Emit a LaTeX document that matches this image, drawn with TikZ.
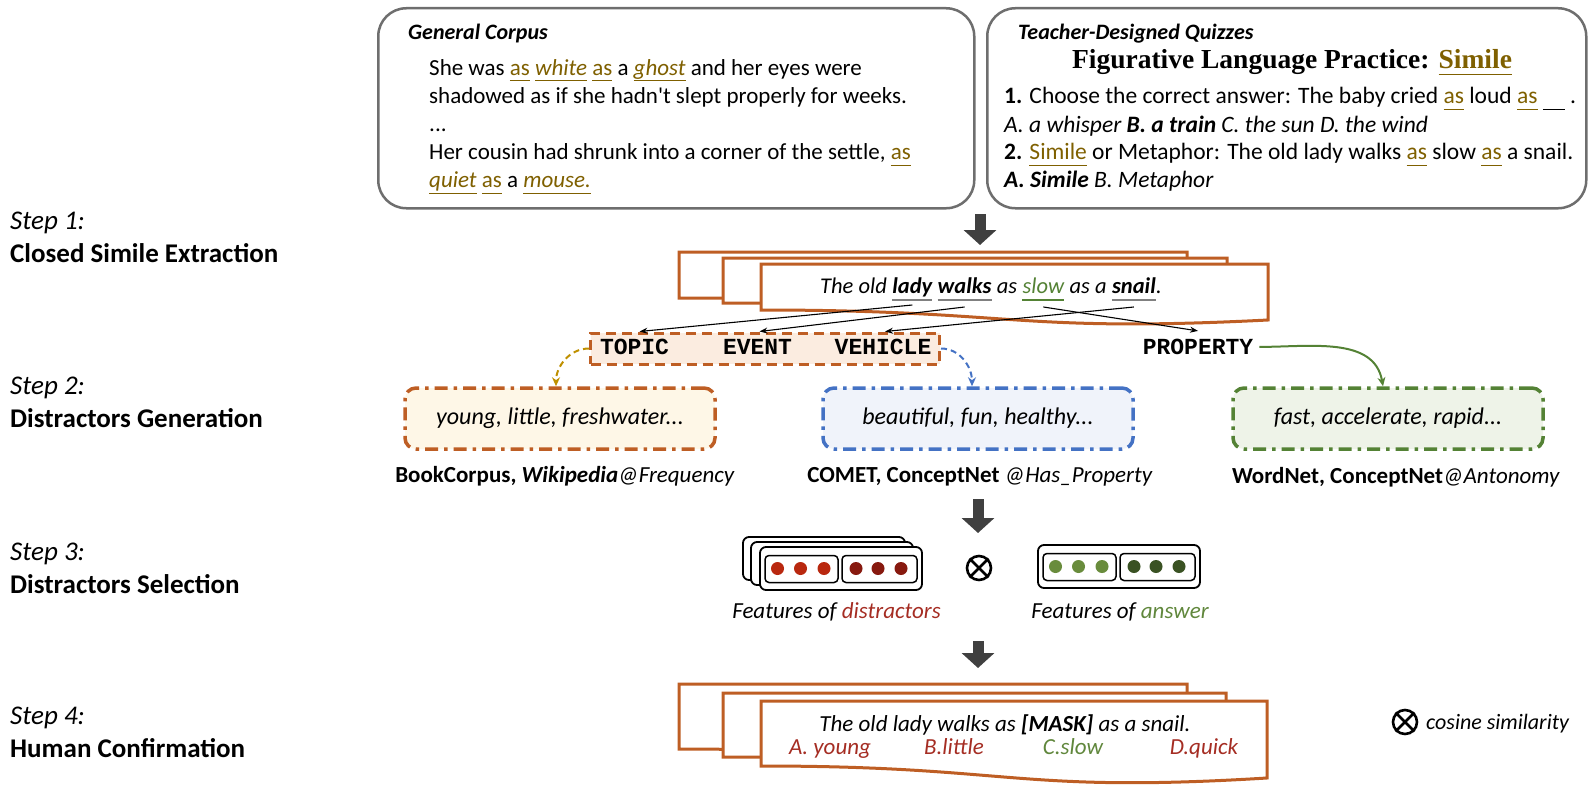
\documentclass[tikz,border=0pt]{standalone}
\usepackage{fontspec}
\setmainfont{Carlito}
\newfontfamily\monofont{Liberation Mono}
\newfontfamily\titleserif{Liberation Serif}
\usetikzlibrary{arrows.meta}
\usetikzlibrary{calc}
\usetikzlibrary{positioning}

\definecolor{docbrown}{RGB}{190,94,36}
\definecolor{corpusgold}{RGB}{127,96,0}
\definecolor{boxgray}{RGB}{110,110,110}
\definecolor{bigarrowgray}{RGB}{64,64,64}
\definecolor{topicfill}{RGB}{251,236,224}
\definecolor{freqfill}{RGB}{254,247,231}
\definecolor{propfill}{RGB}{240,243,250}
\definecolor{antofill}{RGB}{238,243,232}
\definecolor{freqgold}{RGB}{191,144,0}
\definecolor{propblue}{RGB}{68,114,196}
\definecolor{antogreen}{RGB}{84,130,53}
\definecolor{wrongred}{RGB}{165,45,35}
\definecolor{rightgreen}{RGB}{96,135,60}
\definecolor{dotred}{RGB}{185,40,15}
\definecolor{dotdarkred}{RGB}{135,25,15}
\definecolor{dotgreen}{RGB}{105,140,60}
\definecolor{dotdarkgreen}{RGB}{58,82,35}

% underline at a fixed depth
\newsavebox\ulsave
\newcommand{\ulbox}[1]{\sbox\ulsave{#1}\rlap{\rule[-6.3pt]{\wd\ulsave}{1.3pt}}\usebox\ulsave}
\newcommand{\hlw}[1]{\textcolor{corpusgold}{\ulbox{#1}}}

% one sheet of a stacked document, wavy bottom edge
\newcommand{\docpage}[5]{%
  \draw[docline] (#1,#2) -- (#3,#2) -- (#3,#5)
    .. controls ({(#1+#3)/2},{#5+1.29*(#5-#4)}) and ({(#1+#3)/2},#4) .. (#1,#4) -- cycle;}

% feature vector: left, top, light dots, dark dots
\newcommand{\featbar}[4]{%
  \draw[featbox] (#1,#2) rectangle ++(162,43);
  \draw[featgroup] (#1+5,#2+8.5) rectangle ++(73,27);
  \draw[featgroup] (#1+82,#2+8.5) rectangle ++(75,27);
  \foreach \dx in {17.5,40.5,64} \fill[#3] (#1+\dx,#2+21.5) circle (6.5);
  \foreach \dx in {96,118,141} \fill[#4] (#1+\dx,#2+21.5) circle (6.5);}

\tikzset{
  topbox/.style={draw=boxgray, line width=2.5pt, rounded corners=28pt, fill=white, inner sep=0pt},
  corpustext/.style={font=\fontsize{23}{28}\selectfont, inner sep=0pt, anchor=base west},
  quiztext/.style={font=\fontsize{23.5}{28}\selectfont, inner sep=0pt, anchor=base west},
  quiztitle/.style={font=\titleserif\bfseries\fontsize{27.5}{32}\selectfont, inner sep=0pt, anchor=base},
  stepno/.style={font=\fontsize{27}{32}\selectfont\itshape, inner sep=0pt, anchor=base west},
  stepname/.style={font=\fontsize{27}{32}\selectfont\bfseries, inner sep=0pt, anchor=base west},
  bigarrow/.style={draw=bigarrowgray, line width=11pt, -{Triangle[width=32pt,length=15pt]}},
  docline/.style={draw=docbrown, line width=3pt, fill=white, line join=miter},
  sword/.style={font=\fontsize{22.5}{28}\selectfont\itshape, inner sep=0pt, anchor=base west},
  wordline/.style={line width=1.3pt},
  wordarrow/.style={line width=1.1pt, -{Stealth[length=8pt,width=6pt]}},
  rolebox/.style={draw=docbrown, fill=topicfill, line width=3pt, dash pattern=on 10pt off 6pt, inner sep=0pt},
  role/.style={font=\monofont\bfseries\fontsize{23}{26}\selectfont, inner sep=0pt, anchor=base},
  genbox/.style={line width=3.5pt, rounded corners=11pt, dash pattern=on 13pt off 6pt on 3.5pt off 6pt,
    minimum width=310pt, minimum height=61pt, inner sep=0pt, font=\fontsize{24}{28}\selectfont\itshape},
  genarrow/.style={line width=2pt, dash pattern=on 6pt off 4pt, -{Stealth[length=9pt,width=8pt]}},
  srclabel/.style={font=\fontsize{23}{27}\selectfont, inner sep=0pt, anchor=base},
  featbox/.style={draw=black, fill=white, line width=1.8pt, rounded corners=6pt},
  featgroup/.style={draw=black, line width=1.5pt, rounded corners=4pt},
  featlabel/.style={font=\fontsize{23}{28}\selectfont\itshape, inner sep=0pt, anchor=base},
  cosnode/.style={circle, draw=black, line width=2.6pt, minimum size=24pt, inner sep=0pt},
  optline/.style={font=\fontsize{23}{28}\selectfont\itshape, inner sep=0pt, anchor=base}
}

\begin{document}
\begin{tikzpicture}[x=1pt, y=-1pt]
  \useasboundingbox (0,0) rectangle (1593,792);

  % sources
  \node[topbox, minimum width=596pt, minimum height=200pt, anchor=north west] (corpus) at (377,7) {};
  \node[topbox, minimum width=599pt, minimum height=200pt, anchor=north west] (quiz) at (986,7) {};

  \node[corpustext] (chead) at (408,40) {\fontsize{22}{26}\selectfont\bfseries\itshape General Corpus};
  \node[corpustext] (cline1) at (429,75) {She was \hlw{as} \hlw{\textit{white}} \hlw{as} a \hlw{\textit{ghost}} and her eyes were};
  \node[corpustext] (cline2) at (429,103.5) {shadowed as if she hadn\textquotesingle t slept properly for weeks.};
  \node[corpustext] (cline3) at (429,131.5) {...};
  \node[corpustext] (cline4) at (429,159.5) {Her cousin had shrunk into a corner of the settle, \hlw{as}};
  \node[corpustext] (cline5) at (429,187.5) {\hlw{\textit{quiet}} \hlw{as} a \hlw{\textit{mouse.}}};

  \node[corpustext] (qhead) at (1018,40) {\fontsize{22}{26}\selectfont\bfseries\itshape Teacher-Designed Quizzes};
  \node[quiztitle] (qtitle) at (1292,69) {Figurative Language Practice: \hlw{Simile}};
  \node[quiztext] (qline1) at (1004,103.5) {\textbf{1.} Choose the correct answer: The baby cried \hlw{as} loud \hlw{as} \rule[-6.3pt]{22pt}{1.3pt} .};
  \node[quiztext] (qline2) at (1004,132) {\itshape A. a whisper \textbf{B. a train} C. the sun D. the wind};
  \node[quiztext] (qline3) at (1004,159.5) {\textbf{2.} \hlw{Simile} or Metaphor: The old lady walks \hlw{as} slow \hlw{as} a snail.};
  \node[quiztext] (qline4) at (1004,187.5) {\itshape\textbf{A. Simile} B. Metaphor};

  % steps
  \foreach \n/\y/\name in {1/229/Closed Simile Extraction, 2/394/Distractors Generation,
      3/560/Distractors Selection, 4/724/Human Confirmation}{
    \node[stepno] (step\n) at (10,\y) {Step \n:};
    \node[stepname] (stepname\n) at (10,\y+33) {\name};
  }

  % step 1
  \coordinate (arrAtop) at (980,214);
  \coordinate (arrAtip) at (980,245);
  \draw[bigarrow] (arrAtop) -- (arrAtip);

  \docpage{679}{252}{1187}{298}{308}
  \docpage{723}{258}{1227}{303}{313}
  \docpage{761}{264}{1268}{310}{320}

  \node[sword] (wthe) at (820,293) {The old};
  \node[sword] (wlady) at ($(wthe.base east)+(5.1,0)$) {\textbf{lady}};
  \node[sword] (wwalks) at ($(wlady.base east)+(5.1,0)$) {\textbf{walks}};
  \node[sword] (wasone) at ($(wwalks.base east)+(5.1,0)$) {as};
  \node[sword, text=antogreen] (wslow) at ($(wasone.base east)+(5.1,0)$) {slow};
  \node[sword] (wastwo) at ($(wslow.base east)+(5.1,0)$) {as a};
  \node[sword] (wsnail) at ($(wastwo.base east)+(5.1,0)$) {\textbf{snail}};
  \node[sword] (wdot) at (wsnail.base east) {.};

  \foreach \w in {wlady,wwalks,wsnail}
    \draw[wordline, gray] ([yshift=-7pt]\w.base west) -- ([yshift=-7pt]\w.base east);
  \draw[wordline, antogreen] ([yshift=-7pt]wslow.base west) -- ([yshift=-7pt]wslow.base east);

  % step 2
  \node[rolebox, minimum width=349pt, minimum height=31pt] (tvbox) at (765,348.5) {};
  \node[role] (topic) at (634.5,354.5) {TOPIC};
  \node[role] (event) at (757.5,354.5) {EVENT};
  \node[role] (vehicle) at (883,354.5) {VEHICLE};
  \node[role] (property) at (1198,354.5) {PROPERTY};

  \draw[wordarrow] ([yshift=-12pt]wlady.base) -- ([xshift=5pt]topic.north |- tvbox.north);
  \draw[wordarrow] ([yshift=-14pt]wwalks.base) -- ([xshift=2pt]event.north |- tvbox.north);
  \draw[wordarrow] ([yshift=-14pt]wsnail.base) -- ([xshift=2pt]vehicle.north |- tvbox.north);
  \draw[wordarrow] ([yshift=-14pt]wslow.base) -- ([yshift=8pt]property.north);

  \node[genbox, draw=docbrown, fill=freqfill] (freqbox) at (560,418.5) {young, little, freshwater...};
  \node[genbox, draw=propblue, fill=propfill] (propbox) at (978,418.5) {beautiful, fun, healthy...};
  \node[genbox, draw=antogreen, fill=antofill] (antobox) at (1388,418.5) {fast, accelerate, rapid...};

  \draw[genarrow, freqgold] (tvbox.west) to[out=180, in=90] ([xshift=-4pt]freqbox.north);
  \draw[genarrow, propblue] (tvbox.east) to[out=0, in=90] ([xshift=-6pt]propbox.north);
  \draw[line width=2pt, antogreen, -{Stealth[length=9pt,width=8pt]}]
    ([xshift=6pt]property.east) to[out=0, in=100] ([xshift=-5pt]antobox.north);

  \node[srclabel] (freqsrc) at (565,482) {\textbf{BookCorpus, \textit{Wikipedia}}\textit{@Frequency}};
  \node[srclabel] (propsrc) at (980,482) {\textbf{COMET, ConceptNet} \textit{@Has\_Property}};
  \node[srclabel] (antosrc) at (1396,483) {\textbf{WordNet, ConceptNet}\textit{@Antonomy}};

  % step 3
  \coordinate (arrBtop) at (978,499);
  \coordinate (arrBtip) at (978,533);
  \draw[bigarrow] (arrBtop) -- (arrBtip);

  \draw[featbox] (743,537) rectangle ++(162,43);
  \draw[featbox] (751,542) rectangle ++(162,43);
  \featbar{760}{547}{dotred}{dotdarkred}
  \featbar{1038}{545}{dotgreen}{dotdarkgreen}

  \node[cosnode] (cossel) at (979,568) {};
  \draw[line width=2.6pt] (cossel.north west) -- (cossel.south east)
    (cossel.north east) -- (cossel.south west);

  \node[featlabel] (distlabel) at (836.5,618) {Features of \textcolor{wrongred}{distractors}};
  \node[featlabel] (anslabel) at (1120,618) {Features of \textcolor{rightgreen}{answer}};

  % step 4
  \coordinate (arrCtop) at (978,641);
  \coordinate (arrCtip) at (978,668);
  \draw[bigarrow] (arrCtop) -- (arrCtip);

  \docpage{679}{684}{1187}{749}{761}
  \docpage{723}{693}{1226}{757}{769}
  \docpage{761}{701}{1267}{766}{778}

  \node[optline] (maskline) at (1005,731) {The old lady walks as \textbf{[MASK]} as a snail.};
  \node[optline, text=wrongred] (opta) at (830,754) {A. young};
  \node[optline, text=wrongred] (optb) at (954,754) {B.little};
  \node[optline, text=rightgreen] (optc) at (1073,754) {C.slow};
  \node[optline, text=wrongred] (optd) at (1204,754) {D.quick};

  % legend
  \node[cosnode] (coslegend) at (1405,722) {};
  \draw[line width=2.6pt] (coslegend.north west) -- (coslegend.south east)
    (coslegend.north east) -- (coslegend.south west);
  \node[optline, anchor=base west] (coslabel) at (1426,729) {\fontsize{22}{26}\selectfont cosine similarity};
\end{tikzpicture}
\end{document}
